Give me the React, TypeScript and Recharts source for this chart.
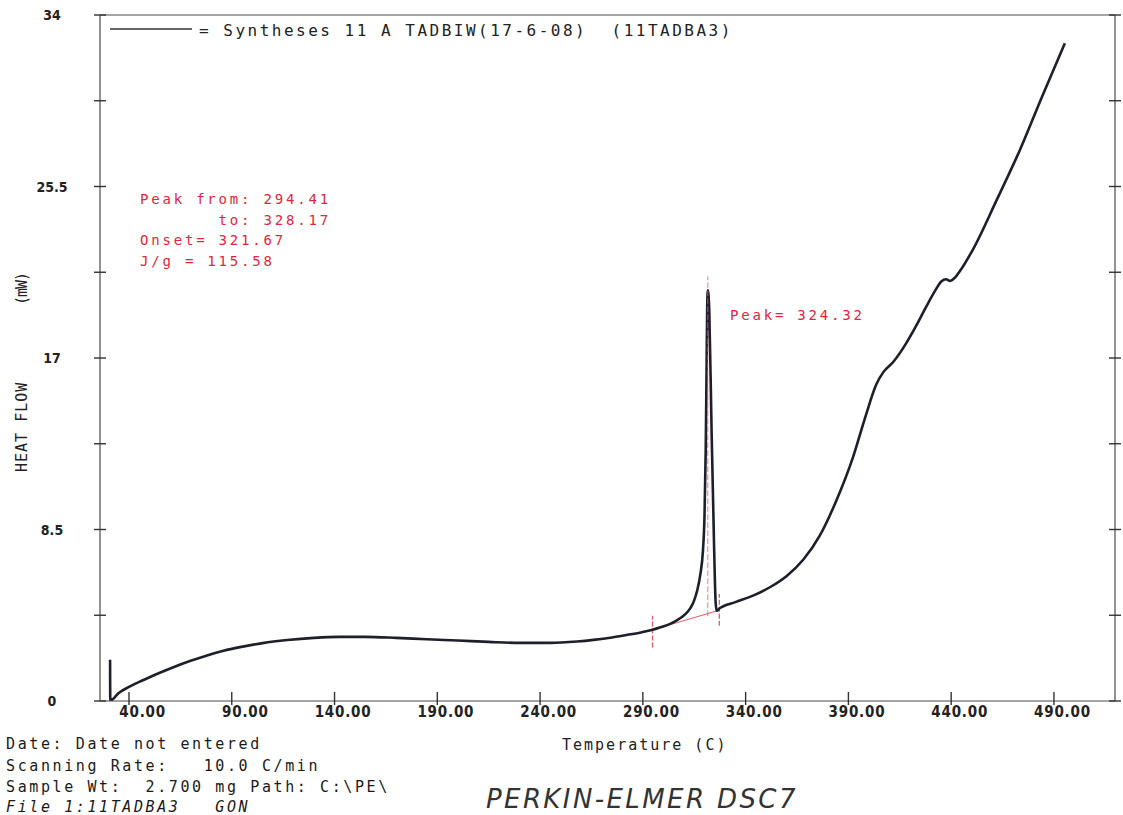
import React from 'react';
import { LineChart, Line, XAxis, YAxis, ReferenceLine, Legend } from 'recharts';

// DSC7 scan (temperature in C, heat flow in mW)
const temperature = [
  30.8, 30.9, 35, 40, 45, 50, 55, 61, 70, 78, 86, 94, 105, 117, 130, 142, 155, 170, 185, 200, 215,
  230, 245, 258, 266, 275, 282, 289, 294.7, 299, 303, 306.5, 309.5, 312, 313.7, 315, 316.5, 318,
  319.2, 320, 320.6, 321, 321.3, 321.6, 322.3, 323.4, 324.6, 325.4, 325.9, 327.2, 335, 343.6, 352,
  360, 368, 376, 384, 392.3, 398, 403.6, 407, 411.8, 418.3, 423, 428, 432, 435.3, 437.5, 439.5,
  442, 444.2, 450.7, 462, 473.4, 484, 495.3,
];
const heatFlow = [
  2.05, 0.02, 0.4, 0.7, 0.95, 1.18, 1.4, 1.65, 1.99, 2.26, 2.49, 2.67, 2.87, 3.02, 3.13, 3.18, 3.18,
  3.13, 3.06, 3.0, 2.93, 2.88, 2.88, 2.95, 3.03, 3.15, 3.27, 3.4, 3.53, 3.67, 3.81, 4.0, 4.2, 4.45,
  4.7, 5.0, 5.5, 6.3, 7.4, 9.2, 12.5, 16.5, 19.5, 20.35, 19.4, 13.6, 7.9, 4.9, 4.47, 4.58, 4.9, 5.22,
  5.65, 6.2, 7.0, 8.18, 9.9, 12.1, 14.0, 15.7, 16.3, 16.8, 17.76, 18.6, 19.57, 20.3, 20.8, 20.9,
  20.82, 21.0, 21.3, 22.4, 24.8, 27.3, 29.9, 32.6,
];

const xTicks = [40, 90, 140, 190, 240, 290, 340, 390, 440, 490];
const yTicks = [0, 4.25, 8.5, 12.75, 17, 21.25, 25.5, 29.75, 34];
const yLabelTicks = [0, 8.5, 17, 25.5, 34];

// integration markers (start, peak, end) and baseline ends
const peakStart = { t: 294.7, low: 2.65, high: 4.22 };
const peakTop = { t: 321.6, low: 4.2, high: 21.05 };
const peakEnd = { t: 327.2, low: 3.73, high: 5.3 };
const baseline = [{ t: 294.7, v: 3.53 }, { t: 327.2, v: 4.5 }];

const peakInfo = ['Peak from: 294.41', '       to: 328.17', 'Onset= 321.67', 'J/g = 115.58'];
const peakLabel = 'Peak= 324.32';
const seriesName = '= Syntheses 11 A TADBIW(17-6-08)  (11TADBA3)';
const runInfo = [
  'Date: Date not entered',
  'Scanning Rate:   10.0 C/min',
  'Sample Wt:  2.700 mg Path: C:\\PE\\',
];
const fileInfo = 'File 1:11TADBA3   GON';

const data = temperature.map((t, i) => ({ t, v: heatFlow[i] }));

const MONO = "'DejaVu Sans Mono', 'Liberation Mono', monospace";
const COND = "'DejaVu Sans Condensed', 'DejaVu Sans', sans-serif";
const RED = '#e3243f';
const RED_LINE = '#e8586a';
const AXIS = '#4a4a4a';

const XTick = (props: any) => {
  const { x, y, payload } = props;
  return (
    <g>
      <line x1={x} y1={y - 9} x2={x} y2={y + 4} stroke="#333" strokeWidth={1.4} />
      <text
        x={x + 37}
        y={y + 16}
        textAnchor="end"
        fontFamily={COND}
        fontStretch="condensed"
        fontWeight="bold"
        fontSize={15}
        letterSpacing={0.8}
        fill="#222"
      >
        {payload.value.toFixed(2)}
      </text>
    </g>
  );
};

const YTick = (props: any) => {
  const { x, y, payload } = props;
  const showLabel = yLabelTicks.includes(payload.value);
  return (
    <g>
      <line x1={x - 6} y1={y} x2={x + 6} y2={y} stroke="#333" strokeWidth={1.4} />
      {showLabel && (
        <text
          x={x - 48}
          y={y + 5}
          textAnchor="middle"
          fontFamily={COND}
          fontStretch="condensed"
          fontWeight="bold"
          fontSize={14}
          fill="#222"
        >
          {payload.value}
        </text>
      )}
    </g>
  );
};

const RightTick = (props: any) => {
  const { x, y } = props;
  return <line x1={x - 6} y1={y} x2={x + 6} y2={y} stroke="#333" strokeWidth={1.4} />;
};

const SeriesLegend = () => (
  <svg width={800} height={30}>
    <line x1={110} y1={15} x2={192} y2={15} stroke="#333" strokeWidth={1.4} />
    <text x={199} y={22} fontFamily={MONO} fontSize={16} letterSpacing={2.5} fill="#222" style={{ whiteSpace: 'pre' }}>
      {seriesName}
    </text>
  </svg>
);

const Texts = () => (
  <g>
    {peakInfo.map((s, i) => (
      <text key={s} x={140} y={204 + i * 20.7} fontFamily={MONO} fontSize={14} letterSpacing={2.8} fill={RED} style={{ whiteSpace: 'pre' }}>
        {s}
      </text>
    ))}
    <text x={730} y={320} fontFamily={MONO} fontSize={14} letterSpacing={2.8} fill={RED}>
      {peakLabel}
    </text>
    <text x={562} y={750} fontFamily={MONO} fontSize={15} letterSpacing={2} fill="#222">
      Temperature (C)
    </text>
    <text x={27} y={472} transform="rotate(-90 27 472)" fontFamily={MONO} fontSize={15} letterSpacing={1} fill="#222">
      HEAT FLOW
    </text>
    <text x={27} y={305} transform="rotate(-90 27 305)" fontFamily={MONO} fontSize={15} letterSpacing={-1} fill="#222">
      (mW)
    </text>
    {runInfo.map((s, i) => (
      <text key={s} x={6} y={749 + i * 21.5} fontFamily={MONO} fontSize={15} letterSpacing={2.6} fill="#1a1a1a" style={{ whiteSpace: 'pre' }}>
        {s}
      </text>
    ))}
    <text x={6} y={812} fontFamily={MONO} fontStyle="italic" fontSize={15} letterSpacing={2.6} fill="#1a1a1a" style={{ whiteSpace: 'pre' }}>
      {fileInfo}
    </text>
    <text x={486} y={808} fontFamily="'DejaVu Sans', sans-serif" fontWeight={200} fontStyle="italic" fontSize={26} letterSpacing={2.4} fill="#333">
      PERKIN-ELMER DSC7
    </text>
  </g>
);

export default function App() {
  return (
    <div style={{ position: 'absolute', left: 0, top: 0, width: 1123, height: 815, background: '#fff' }}>
      <LineChart width={1123} height={815} data={data} margin={{ top: 15, right: 0, bottom: 0, left: 0 }}>
        <XAxis
          dataKey="t"
          type="number"
          domain={[25.9, 519.7]}
          ticks={xTicks}
          allowDataOverflow
          height={114}
          tickSize={0}
          tickMargin={0}
          tickLine={false}
          tick={<XTick />}
          axisLine={{ stroke: AXIS, strokeWidth: 1.2 }}
        />
        <YAxis
          domain={[0, 34]}
          ticks={yTicks}
          allowDataOverflow
          width={100}
          tickSize={0}
          tickMargin={0}
          tickLine={false}
          tick={<YTick />}
          axisLine={{ stroke: AXIS, strokeWidth: 1.2 }}
        />
        <YAxis
          yAxisId="right"
          orientation="right"
          domain={[0, 34]}
          ticks={yTicks}
          allowDataOverflow
          width={8}
          tickSize={0}
          tickMargin={0}
          tickLine={false}
          tick={<RightTick />}
          axisLine={{ stroke: AXIS, strokeWidth: 1.2 }}
        />
        <ReferenceLine y={34} stroke={AXIS} strokeWidth={1.2} />
        <Legend layout="horizontal" verticalAlign="middle" align="center" wrapperStyle={{ left: 0, top: 14, width: 800 }} content={() => <SeriesLegend />} />
        <ReferenceLine
          segment={[{ x: peakStart.t, y: peakStart.low }, { x: peakStart.t, y: peakStart.high }]}
          stroke={RED_LINE}
          strokeWidth={1.3}
          strokeDasharray="5 2"
        />
        <ReferenceLine
          segment={[{ x: peakEnd.t, y: peakEnd.low }, { x: peakEnd.t, y: peakEnd.high }]}
          stroke={RED_LINE}
          strokeWidth={1.3}
          strokeDasharray="5 2"
        />
        <ReferenceLine
          segment={[{ x: baseline[0].t, y: baseline[0].v }, { x: baseline[1].t, y: baseline[1].v }]}
          stroke={RED_LINE}
          strokeWidth={1}
        />
        <Line
          dataKey="v"
          type="monotone"
          stroke="#1d1f2b"
          strokeWidth={2.6}
          dot={false}
          isAnimationActive={false}
        />
        <ReferenceLine
          segment={[{ x: peakTop.t, y: peakTop.low }, { x: peakTop.t, y: peakTop.high }]}
          stroke={RED_LINE}
          strokeWidth={1}
          strokeDasharray="6 2"
          strokeOpacity={0.8}
        />
        <Texts />
      </LineChart>
    </div>
  );
}
